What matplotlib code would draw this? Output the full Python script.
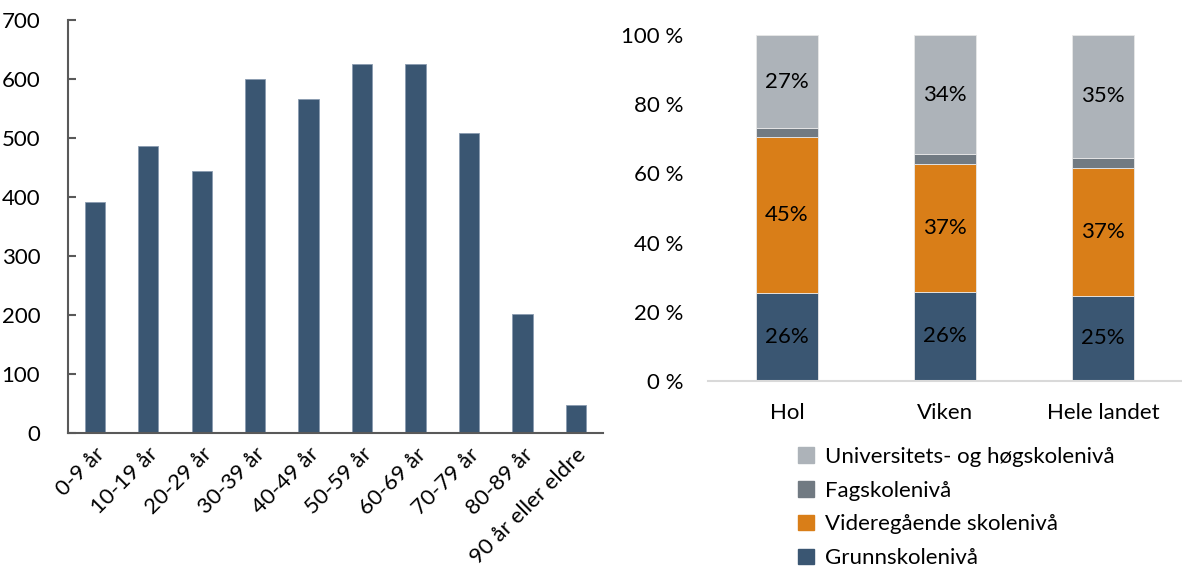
import matplotlib
matplotlib.use("Agg", force=True)
import matplotlib.pyplot as plt
from matplotlib.patches import Patch
import numpy as np

plt.rcParams['font.family'] = ['Lato', 'DejaVu Sans']

# Left chart: population by age group
age_groups = ["0-9 år", "10-19 år", "20-29 år", "30-39 år", "40-49 år",
              "50-59 år", "60-69 år", "70-79 år", "80-89 år", "90 år eller eldre"]
population = [392, 486, 444, 600, 566, 625, 625, 508, 202, 48]

# Right chart: education level shares (%)
regions = ["Hol", "Viken", "Hele landet"]
levels = ["Grunnskolenivå", "Videregående skolenivå", "Fagskolenivå",
          "Universitets- og høgskolenivå"]
grunnskole = [25.6, 25.8, 24.7]
videregaende = [44.8, 37.0, 37.0]
fagskole = [2.6, 2.8, 2.9]
universitet = [27.0, 34.4, 35.4]

BLUE = '#3A5672'
ORANGE = '#D97E18'
DARKGRAY = '#717A82'
LIGHTGRAY = '#ADB3B9'
FS = 16

fig = plt.figure(figsize=(11.82, 5.74), dpi=100)

# ---- left: bar chart
ax1 = fig.add_axes([0.0575, 0.2456, 0.4525, 0.7194])
x = np.arange(len(age_groups))
ax1.bar(x, population, width=0.38, color=BLUE, edgecolor='#8A9BB0', linewidth=0.6)
ax1.set_xlim(-0.5, len(age_groups) - 0.5)
ax1.set_ylim(0, 700)
ax1.set_yticks(range(0, 701, 100))
ax1.set_xticks(x)
ax1.set_xticklabels(age_groups, rotation=45, ha='right', va='top', rotation_mode='anchor')
for spine in ['top', 'right']:
    ax1.spines[spine].set_visible(False)
for spine in ['left', 'bottom']:
    ax1.spines[spine].set_color('#595959')
    ax1.spines[spine].set_linewidth(1.5)
ax1.tick_params(axis='y', direction='in', length=6, width=1.5, color='#595959',
                labelsize=FS, pad=20)
ax1.tick_params(axis='x', length=0, labelsize=FS, pad=8)

# ---- right: stacked bar chart
ax2 = fig.add_axes([0.599, 0.336, 0.401, 0.603])
xr = np.arange(len(regions))
series = [grunnskole, videregaende, fagskole, universitet]
colors = [BLUE, ORANGE, DARKGRAY, LIGHTGRAY]
bottom = np.zeros(len(regions))
for vals, col, name in zip(series, colors, levels):
    vals = np.array(vals)
    ax2.bar(xr, vals, bottom=bottom, width=0.39, color=col, edgecolor='#E8E8E8',
            linewidth=0.6, label=name)
    if name != "Fagskolenivå":
        for xi, b, v in zip(xr, bottom, vals):
            ax2.text(xi, b + v / 2, f"{v:.0f}%", ha='center', va='center',
                     fontsize=FS, color='black')
    bottom += vals
ax2.set_xlim(-0.5, len(regions) - 0.5)
ax2.set_ylim(0, 100)
ax2.set_yticks(range(0, 101, 20))
ax2.set_yticklabels([f"{v} %" for v in range(0, 101, 20)])
ax2.set_xticks(xr)
ax2.set_xticklabels(regions)
for spine in ['top', 'right', 'left']:
    ax2.spines[spine].set_visible(False)
ax2.spines['bottom'].set_color('#D9D9D9')
ax2.spines['bottom'].set_linewidth(1.5)
ax2.tick_params(axis='both', length=0, labelsize=FS)
ax2.tick_params(axis='y', pad=18)
ax2.tick_params(axis='x', pad=16)

handles = [Patch(color=c, label=l) for c, l in zip(colors, levels)][::-1]
fig.legend(handles=handles, loc='upper left', bbox_to_anchor=(0.668, 0.237),
           frameon=False, fontsize=FS, handlelength=0.7, handleheight=0.7,
           handletextpad=0.5, labelspacing=0.62, borderaxespad=0)

fig.savefig("out.png", dpi=100)
